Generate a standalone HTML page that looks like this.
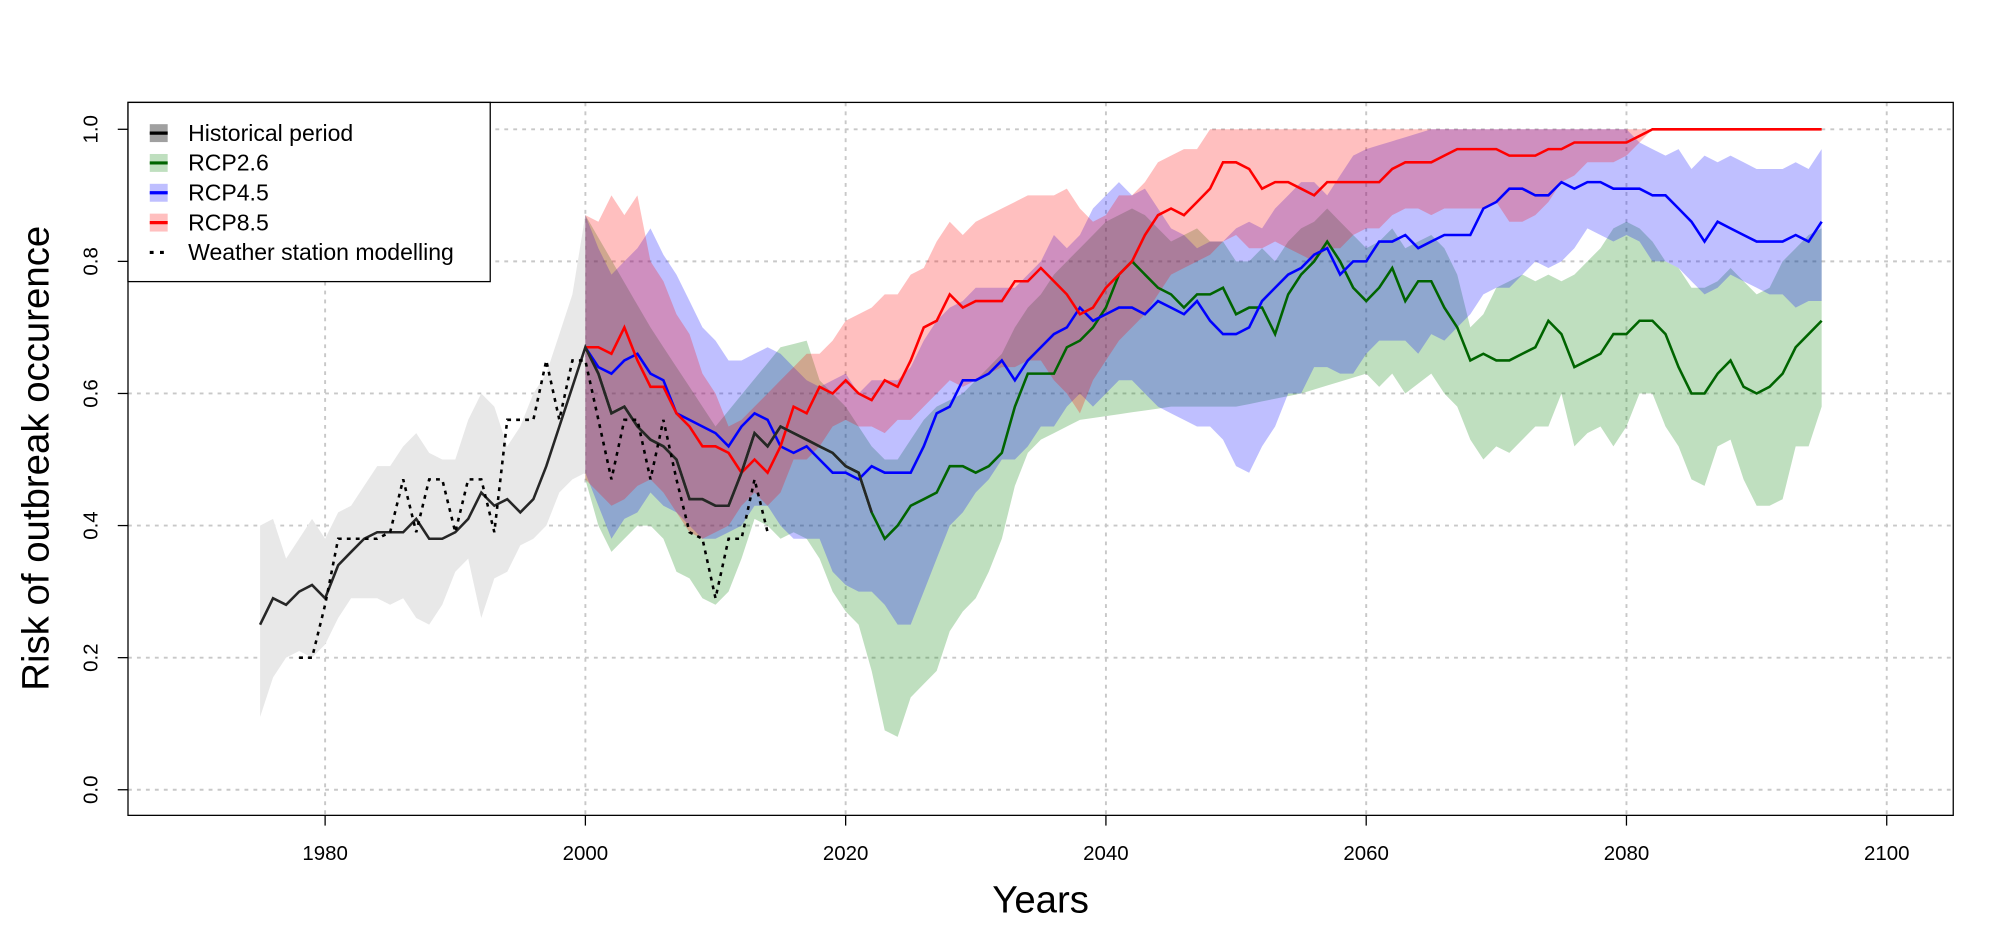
<!DOCTYPE html>
<html><head><meta charset="utf-8"><style>
html,body{margin:0;padding:0;background:#fff;}
svg{display:block;}
text{font-family:"Liberation Sans",Arial,sans-serif;fill:#000;}
</style></head><body>
<svg id="s" width="2007" height="944" viewBox="0 0 1568 737.5" xmlns="http://www.w3.org/2000/svg"></svg>
<script>
const X=y=>254+(y-1980)*10.167, Y=v=>617-v*516;
function ser(start,arr){return arr.map((v,i)=>[start+i,v]);}
function interp(pts){
  const out=[];for(let k=0;k<pts.length-1;k++){const [a,va]=pts[k],[b,vb]=pts[k+1];for(let y=a;y<b;y++)out.push([y,va+(vb-va)*(y-a)/(b-a)]);}
  out.push(pts[pts.length-1]);return out;}
const line=p=>p.map((q,i)=>(i?'L':'M')+X(q[0]).toFixed(1)+','+Y(q[1]).toFixed(1)).join('');
const band=(u,l)=>line(u)+line(l.slice().reverse()).replace('M','L')+'Z';

const gU=ser(1975,[.40,.41,.35,.38,.41,.38,.42,.43,.46,.49,.49,.52,.54,.51,.50,.50,.56,.60,.58,.52,.55,.60,.63,.69,.75,.87]);
const gL=ser(1975,[.11,.17,.2,.21,.2,.22,.26,.29,.29,.29,.28,.29,.26,.25,.28,.33,.35,.26,.32,.33,.37,.38,.40,.45,.47,.48]);
const hist=ser(1975,[.25,.29,.28,.30,.31,.29,.34,.36,.38,.39,.39,.39,.41,.38,.38,.39,.41,.45,.43,.44,.42,.44,.49,.55,.61,.67,.63,.57,.58,.55,.53,.52,.50,.44,.44,.43,.43,.48,.54,.52,.55,.54,.53,.52,.51,.49,.48,.42]);
const ws=ser(1978,[.2,.2,.28,.38,.38,.38,.38,.39,.47,.39,.47,.47,.39,.47,.47,.39,.56,.56,.56,.65,.56,.65,.65,.56,.47,.56,.56,.47,.56,.47,.39,.38,.29,.38,.38,.47,.39]);

const rL=ser(2000,[.67,.67,.66,.70,.65,.61,.61,.57,.55,.52,.52,.51,.48,.50,.48,.52,.58,.57,.61,.60,.62,.60,.59,.62,.61,.65,.70,.71,.75,.73,.74,.74,.74,.77,.77,.79,.77,.75,.72,.73,.76,.78,.80,.84,.87,.88,.87,.89,.91,.95,.95,.94,.91,.92,.92,.91,.90,.92,.92,.92,.92,.92,.94,.95,.95,.95,.96,.97,.97,.97,.97,.96,.96,.96,.97,.97,.98,.98,.98,.98,.98,.99,1,1,1,1,1,1,1,1,1,1,1,1,1,1]);
const rU=ser(2000,[.87,.86,.90,.87,.90,.80,.77,.72,.69,.63,.60,.55,.56,.58,.60,.62,.64,.66,.66,.68,.71,.72,.73,.75,.75,.78,.79,.83,.86,.84,.86,.87,.88,.89,.90,.90,.90,.91,.88,.86,.87,.90,.90,.92,.95,.96,.97,.97].concat(Array(48).fill(1)));
const rLo=ser(2000,[.47,.45,.43,.44,.46,.47,.45,.42,.39,.38,.39,.40,.43,.45,.43,.45,.50,.50,.52,.55,.56,.55,.55,.54,.56,.56,.58,.60,.62,.61,.62,.63,.64,.64,.65,.65,.62,.60,.57,.62,.65,.68,.70,.72,.75,.78,.79,.80,.81,.83,.84,.82,.82,.83,.82,.81,.80,.82,.82,.84,.85,.85,.87,.88,.88,.87,.88,.88,.88,.88,.89,.86,.86,.87,.89,.92,.93,.95,.95,.95,.96,.98].concat(Array(14).fill(1)));

const bL=ser(2000,[.67,.64,.63,.65,.66,.63,.62,.57,.56,.55,.54,.52,.55,.57,.56,.52,.51,.52,.50,.48,.48,.47,.49,.48,.48,.48,.52,.57,.58,.62,.62,.63,.65,.62,.65,.67,.69,.70,.73,.71,.72,.73,.73,.72,.74,.73,.72,.74,.71,.69,.69,.70,.74,.76,.78,.79,.81,.82,.78,.80,.80,.83,.83,.84,.82,.83,.84,.84,.84,.88,.89,.91,.91,.90,.90,.92,.91,.92,.92,.91,.91,.91,.90,.90,.88,.86,.83,.86,.85,.84,.83,.83,.83,.84,.83,.86]);
const bU=interp([[2000,.87],[2001,.82],[2002,.78],[2003,.80],[2004,.82],[2005,.85],[2006,.81],[2007,.78],[2008,.74],[2009,.70],[2010,.68],[2011,.65],[2012,.65],[2013,.66],[2014,.67],[2015,.66],[2016,.64],[2017,.62],[2018,.61],[2019,.62],[2020,.63],[2021,.60],[2022,.62],[2024,.62],[2025,.64],[2026,.68],[2027,.71],[2028,.73],[2029,.74],[2030,.76],[2033,.76],[2034,.78],[2035,.80],[2036,.84],[2037,.82],[2038,.84],[2039,.88],[2040,.90],[2041,.92],[2042,.90],[2043,.91],[2044,.88],[2045,.85],[2046,.84],[2047,.82],[2048,.83],[2049,.83],[2050,.85],[2051,.86],[2052,.85],[2053,.88],[2054,.90],[2055,.92],[2056,.92],[2057,.90],[2058,.93],[2059,.96],[2060,.97],[2065,1],[2080,1],[2081,.98],[2082,.97],[2083,.96],[2084,.97],[2085,.94],[2086,.96],[2087,.95],[2088,.96],[2089,.95],[2090,.94],[2092,.94],[2093,.95],[2094,.94],[2095,.97]]);
const bLo=ser(2000,[.48,.43,.38,.41,.42,.45,.43,.42,.40,.38,.38,.39,.40,.43,.43,.40,.38,.38,.38,.33,.31,.30,.30,.28,.25,.25,.30,.35,.40,.42,.45,.47,.50,.50,.52,.55,.55,.58,.60,.58,.60,.62,.62,.60,.58,.57,.56,.55,.55,.53,.49,.48,.52,.55,.60,.60,.64,.64,.63,.63,.66,.68,.68,.68,.66,.69,.68,.70,.72,.75,.76,.76,.78,.80,.79,.80,.82,.85,.84,.83,.84,.83,.80,.80,.79,.77,.75,.76,.78,.77,.76,.75,.75,.73,.74,.74]);

const grL=hist.filter(p=>p[0]>=2000&&p[0]<2022).concat(ser(2022,[.42,.38,.40,.43,.44,.45,.49,.49,.48,.49,.51,.58,.63,.63,.63,.67,.68,.70,.73,.78,.80,.78,.76,.75,.73,.75,.75,.76,.72,.73,.73,.69,.75,.78,.80,.83,.80,.76,.74,.76,.79,.74,.77,.77,.73,.70,.65,.66,.65,.65,.66,.67,.71,.69,.64,.65,.66,.69,.69,.71,.71,.69,.64,.60,.60,.63,.65,.61,.60,.61,.63,.67,.69,.71]));
const grU=interp([[2000,.87],[2005,.70],[2010,.55],[2015,.67],[2017,.68],[2018,.62],[2019,.60],[2020,.58],[2021,.55],[2022,.52],[2023,.50],[2024,.50],[2025,.53],[2026,.56],[2027,.58],[2029,.60],[2030,.62],[2031,.64],[2032,.66],[2033,.70],[2034,.73],[2035,.75],[2036,.78],[2037,.80],[2038,.82],[2039,.84],[2040,.86],[2042,.88],[2043,.87],[2044,.85],[2045,.83],[2046,.84],[2047,.85],[2048,.83],[2049,.83],[2050,.80],[2051,.80],[2052,.82],[2053,.80],[2054,.83],[2055,.85],[2056,.86],[2057,.88],[2058,.86],[2059,.84],[2060,.82],[2061,.83],[2062,.85],[2063,.82],[2065,.84],[2066,.82],[2067,.78],[2068,.70],[2069,.72],[2070,.76],[2071,.77],[2072,.78],[2073,.77],[2074,.78],[2075,.77],[2076,.78],[2077,.80],[2078,.82],[2079,.85],[2080,.86],[2081,.85],[2082,.83],[2083,.80],[2084,.79],[2085,.76],[2086,.76],[2087,.77],[2088,.79],[2089,.77],[2090,.75],[2091,.76],[2092,.80],[2093,.82],[2094,.84],[2095,.85]]);
const grLo=interp([[2000,.47],[2001,.40],[2002,.36],[2003,.38],[2004,.40],[2005,.40],[2006,.38],[2007,.33],[2008,.32],[2009,.29],[2010,.28],[2011,.30],[2012,.35],[2013,.41],[2014,.40],[2015,.38],[2016,.39],[2017,.38],[2018,.35],[2019,.30],[2020,.27],[2021,.25],[2022,.18],[2023,.09],[2024,.08],[2025,.14],[2026,.16],[2027,.18],[2028,.24],[2029,.27],[2030,.29],[2031,.33],[2032,.38],[2033,.46],[2034,.51],[2035,.53],[2036,.54],[2037,.55],[2038,.56],[2045,.58],[2050,.58],[2055,.60],[2060,.63],[2061,.61],[2062,.63],[2063,.60],[2065,.63],[2066,.60],[2067,.58],[2068,.53],[2069,.50],[2070,.52],[2071,.51],[2072,.53],[2073,.55],[2074,.55],[2075,.60],[2076,.52],[2077,.54],[2078,.55],[2079,.52],[2080,.55],[2081,.60],[2082,.60],[2083,.55],[2084,.52],[2085,.47],[2086,.46],[2087,.52],[2088,.53],[2089,.47],[2090,.43],[2091,.43],[2092,.44],[2093,.52],[2094,.52],[2095,.58]]);

let h='';
for(let y=1980;y<=2100;y+=20)h+=`<line x1="${X(y)}" y1="80" x2="${X(y)}" y2="637" stroke="#c8c8c8" stroke-width="1.5" stroke-dasharray="3,4"/>`;
for(let v=0;v<=1.001;v+=0.2)h+=`<line x1="100" y1="${Y(v)}" x2="1526" y2="${Y(v)}" stroke="#c8c8c8" stroke-width="1.5" stroke-dasharray="3,4"/>`;
h+=`<path d="${band(gU,gL)}" fill="#e8e8e8"/>`;
h+=`<path d="${band(grU,grLo)}" fill="rgba(0,128,0,0.25)"/>`;
h+=`<path d="${band(bU,bLo)}" fill="rgba(0,0,255,0.25)"/>`;
h+=`<path d="${band(rU,rLo)}" fill="rgba(255,0,0,0.25)"/>`;
h+=`<path d="${line(grL)}" fill="none" stroke="#006400" stroke-width="2"/>`;
h+=`<path d="${line(bL)}" fill="none" stroke="#0000ff" stroke-width="2"/>`;
h+=`<path d="${line(rL)}" fill="none" stroke="#ff0000" stroke-width="2"/>`;
h+=`<path d="${line(hist)}" fill="none" stroke="#262626" stroke-width="2"/>`;
h+=`<path d="${line(ws)}" fill="none" stroke="#000" stroke-width="2" stroke-dasharray="3,4"/>`;
h+=`<rect x="100" y="80" width="1426" height="557" fill="none" stroke="#000" stroke-width="1"/>`;
for(let y=1980;y<=2100;y+=20){h+=`<line x1="${X(y)}" y1="637" x2="${X(y)}" y2="645" stroke="#000"/><text x="${X(y)}" y="672" font-size="16" text-anchor="middle">${y}</text>`;}
for(let i=0;i<=5;i++){const v=i*0.2;h+=`<line x1="92" y1="${Y(v)}" x2="100" y2="${Y(v)}" stroke="#000"/><text transform="translate(76,${Y(v)}) rotate(-90)" font-size="16" text-anchor="middle">${v.toFixed(1)}</text>`;}
h+=`<text x="813" y="713" font-size="30" text-anchor="middle">Years</text>`;
h+=`<text transform="translate(38,358) rotate(-90)" font-size="30" text-anchor="middle">Risk of outbreak occurence</text>`;
h+=`<rect x="100" y="80" width="283" height="140" fill="#fff" stroke="#000" stroke-width="1"/>`;
const leg=[["Historical period","#a0a0a0","#000",0],["RCP2.6","rgba(0,128,0,0.25)","#006400",0],["RCP4.5","rgba(0,0,255,0.25)","#0000ff",0],["RCP8.5","rgba(255,0,0,0.25)","#ff0000",0],["Weather station modelling",null,"#000",1]];
leg.forEach((l,i)=>{const cy=104+i*23.3;
 if(l[1])h+=`<rect x="117" y="${cy-7}" width="14" height="14" fill="${l[1]}"/>`;
 h+=`<line x1="117" y1="${cy}" x2="131" y2="${cy}" stroke="${l[2]}" stroke-width="2.5" ${l[3]?'stroke-dasharray="3,5"':''}/>`;
 h+=`<text x="147" y="${cy+6}" font-size="18">${l[0]}</text>`;});
document.getElementById('s').innerHTML=h;
</script>
</body></html>
